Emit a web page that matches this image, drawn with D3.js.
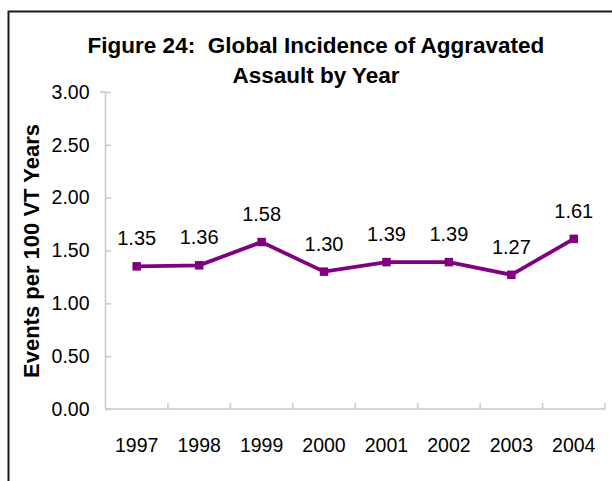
<!DOCTYPE html>
<html>
<head>
<meta charset="utf-8">
<script src="https://cdn.jsdelivr.net/npm/d3@7"></script>
<style>
  html, body { margin: 0; padding: 0; background: #fff; }
  svg { display: block; font-family: "Liberation Sans", Arial, sans-serif; }
</style>
</head>
<body>
<svg id="chart" width="612" height="481"></svg>
<script>
// Aggravated assault events per 100 VT years, by year
const years = ["1997", "1998", "1999", "2000", "2001", "2002", "2003", "2004"];
const rates = [1.35, 1.36, 1.58, 1.30, 1.39, 1.39, 1.27, 1.61];
const yTicks = [0, 0.5, 1.0, 1.5, 2.0, 2.5, 3.0];
const titleLines = ["Figure 24:  Global Incidence of Aggravated", "Assault by Year"];
const yTitle = "Events per 100 VT Years";

const svg = d3.select("#chart");
const W = 612, H = 481;
const plot = { left: 105.5, right: 605, top: 92, bottom: 409 };
const font = "Liberation Sans, Arial, sans-serif";

// outer frame (left and top edges visible)
svg.append("path")
  .attr("d", `M8.5,${H} L8.5,11.5 L${W},11.5`)
  .attr("fill", "none")
  .attr("stroke", "#1a1a1a")
  .attr("stroke-width", 2);

const x = d3.scaleBand().domain(years).range([plot.left, plot.right]).padding(0);
const y = d3.scaleLinear().domain([0, 3]).range([plot.bottom, plot.top]);

const axisColor = "#c8c8c8";

// y axis: inward ticks
const yAxis = svg.append("g")
  .attr("transform", `translate(${plot.left},0)`)
  .call(d3.axisLeft(y).tickValues(yTicks).tickSize(-5.5)
    .tickFormat(d3.format(".2f")));
yAxis.select(".domain").attr("stroke", axisColor).attr("stroke-width", 1.5)
  .attr("d", `M-5.5,${plot.top}H0V${plot.bottom}`);
yAxis.selectAll(".tick line").attr("stroke", axisColor).attr("stroke-width", 1.5);
yAxis.selectAll(".tick text")
  .attr("x", -16)
  .attr("font-size", 19.5).attr("fill", "#000")
  .attr("font-family", font);

// x axis: line with category-boundary ticks pointing up
const xg = svg.append("g").attr("transform", `translate(0,${plot.bottom})`);
xg.append("line")
  .attr("x1", plot.left).attr("x2", plot.right)
  .attr("stroke", axisColor).attr("stroke-width", 1.5);
const bounds = years.map(d => x(d) + x.bandwidth());
xg.selectAll("line.tick")
  .data(bounds)
  .join("line")
  .attr("class", "tick")
  .attr("x1", d => d).attr("x2", d => d)
  .attr("y1", 0).attr("y2", -6)
  .attr("stroke", axisColor).attr("stroke-width", 1.5);
xg.selectAll("text")
  .data(years)
  .join("text")
  .attr("x", d => x(d) + x.bandwidth() / 2)
  .attr("y", 43)
  .attr("text-anchor", "middle")
  .attr("font-size", 19.5)
  .text(d => d);

// series line
const cx = d => x(d) + x.bandwidth() / 2;
const pts = years.map((d, i) => ({ year: d, v: rates[i] }));
svg.append("path")
  .datum(pts)
  .attr("fill", "none")
  .attr("stroke", "#800080")
  .attr("stroke-width", 3.8)
  .attr("stroke-linejoin", "miter")
  .attr("d", d3.line().x(d => cx(d.year)).y(d => y(d.v)));

// square markers
const ms = 8.5;
svg.selectAll("rect.marker")
  .data(pts)
  .join("rect")
  .attr("class", "marker")
  .attr("x", d => cx(d.year) - ms / 2)
  .attr("y", d => y(d.v) - ms / 2)
  .attr("width", ms).attr("height", ms)
  .attr("fill", "#800080");

// value labels
svg.selectAll("text.val")
  .data(pts)
  .join("text")
  .attr("class", "val")
  .attr("x", d => cx(d.year))
  .attr("y", d => y(d.v) - 21)
  .attr("text-anchor", "middle")
  .attr("font-size", 20)
  .text(d => d3.format(".2f")(d.v));

// title
svg.append("g").selectAll("text")
  .data(titleLines)
  .join("text")
  .attr("x", 316)
  .attr("y", (d, i) => 53 + i * 30)
  .attr("text-anchor", "middle")
  .attr("font-size", 22.5)
  .attr("font-weight", "bold")
  .style("white-space", "pre")
  .text(d => d);

// y axis title
svg.append("text")
  .attr("transform", `translate(39,251) rotate(-90)`)
  .attr("text-anchor", "middle")
  .attr("font-size", 22)
  .attr("font-weight", "bold")
  .text(yTitle);
</script>
</body>
</html>
